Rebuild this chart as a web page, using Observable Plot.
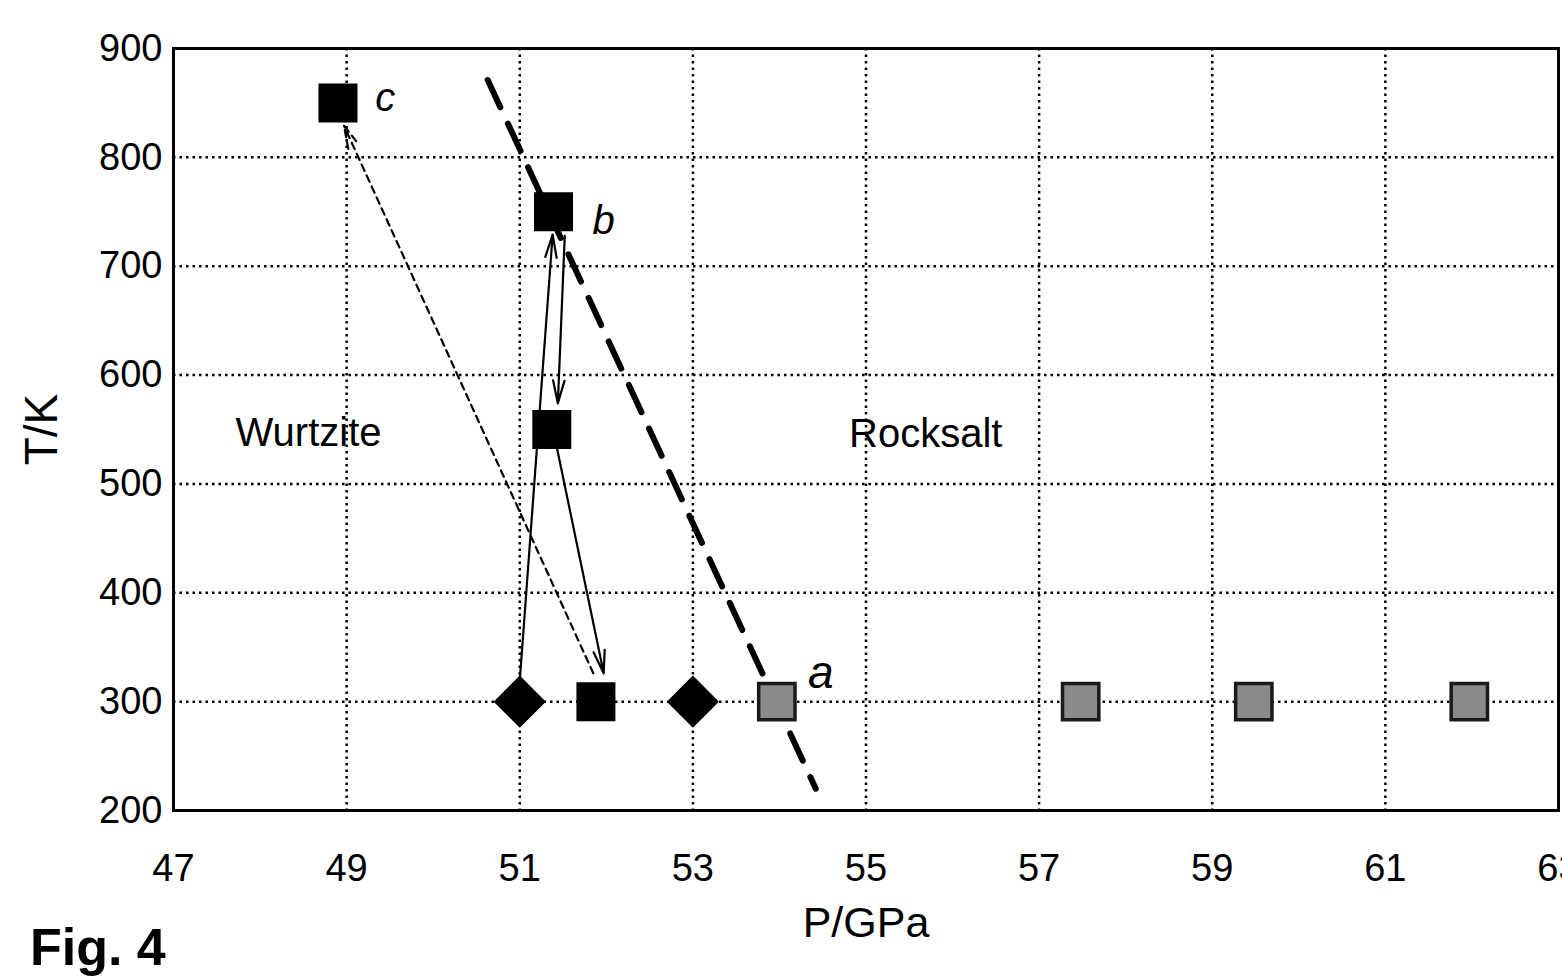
<!DOCTYPE html>
<html><head><meta charset="utf-8">
<script src="https://cdn.jsdelivr.net/npm/d3@7"></script>
<script src="https://cdn.jsdelivr.net/npm/@observablehq/plot@0.6"></script>
<style>
html,body{margin:0;padding:0;background:#fff;overflow:hidden;}
#wrap{position:relative;width:1562px;height:977px;font-family:"Liberation Sans",Arial,sans-serif;}
#fig{position:absolute;left:30px;top:917px;font-size:52px;font-weight:bold;color:#000;}
</style></head><body>
<div id="wrap"><div id="chart"></div><div id="fig">Fig. 4</div></div>
<script>
// Axis ticks
const xTicks = [47, 49, 51, 53, 55, 57, 59, 61, 63];
const yTicks = [200, 300, 400, 500, 600, 700, 800, 900];

// Black squares (computed points c, b, intermediate, end)
const squareP = [48.9, 51.39, 51.37, 51.88];
const squareT = [850, 750, 550, 300];

// Black diamonds
const diamondP = [51.0, 53.0];
const diamondT = [300, 300];

// Grey squares (experimental, "a")
const greyP = [53.97, 57.48, 59.48, 61.97];
const greyT = [300, 300, 300, 300];

// Thick dashed phase boundary
const boundaryP = [50.63, 54.42];
const boundaryT = [871, 220];

// Solid arrows: start P/T, end P/T
const arrowP1 = [51.0, 51.52, 51.43];
const arrowT1 = [319, 728, 533];
const arrowP2 = [51.38, 51.44, 51.97];
const arrowT2 = [729, 574, 326];

// Dashed arrow
const dashArrowP1 = [51.85];
const dashArrowT1 = [326];
const dashArrowP2 = [48.97];
const dashArrowT2 = [829];

// Labels
const pointLabels = ["c", "b", "a"];
const pointLabelP = [49.33, 51.84, 54.33];
const pointLabelT = [854, 741, 326];
const pointLabelSize = [40, 40, 46];
const regionLabels = ["Wurtzite", "Rocksalt"];
const regionLabelP = [48.56, 55.69];
const regionLabelT = [547, 546];

const zipPT = (P, T) => P.map((p, i) => ({P: p, T: T[i]}));
const squares = zipPT(squareP, squareT);
const diamonds = zipPT(diamondP, diamondT);
const greys = zipPT(greyP, greyT);
const boundary = zipPT(boundaryP, boundaryT);
const arrows = arrowP1.map((p, i) => ({x1: p, y1: arrowT1[i], x2: arrowP2[i], y2: arrowT2[i]}));
const dashArrows = dashArrowP1.map((p, i) => ({x1: p, y1: dashArrowT1[i], x2: dashArrowP2[i], y2: dashArrowT2[i]}));
const ptLabels = pointLabels.map((t, i) => ({t, P: pointLabelP[i], T: pointLabelT[i], s: pointLabelSize[i]}));
const rgLabels = regionLabels.map((t, i) => ({t, P: regionLabelP[i], T: regionLabelT[i]}));

const grid = {stroke: "#000", strokeOpacity: 1, strokeWidth: 2.5, strokeDasharray: "2.5,4"};

const chart = Plot.plot({
  width: 1562,
  height: 977,
  marginLeft: 173,
  marginRight: 4,
  marginTop: 48,
  marginBottom: 167,
  style: {fontFamily: "'Liberation Sans', Arial, sans-serif", color: "#000", background: "#fff"},
  x: {domain: [47, 63]},
  y: {domain: [200, 900]},
  marks: [
    Plot.gridX(xTicks, grid),
    Plot.gridY(yTicks, grid),
    Plot.axisX(xTicks, {tickSize: 0, tickPadding: 44, fontSize: 38, label: null}),
    Plot.axisX({ticks: [], label: "P/GPa", labelAnchor: "center", labelArrow: "none", labelOffset: 126, fontSize: 43}),
    Plot.axisY(yTicks, {tickSize: 0, tickPadding: 11, fontSize: 38, label: null}),
    Plot.axisY({ticks: [], label: "T/K", labelAnchor: "center", labelArrow: "none", labelOffset: 149, fontSize: 46}),
    Plot.line(boundary, {x: "P", y: "T", stroke: "#000", strokeWidth: 6, strokeDasharray: "30,18"}),
    Plot.arrow(arrows, {x1: "x1", y1: "y1", x2: "x2", y2: "y2", stroke: "#000", strokeWidth: 2.2, headLength: 16, headAngle: 28}),
    Plot.arrow(dashArrows, {x1: "x1", y1: "y1", x2: "x2", y2: "y2", stroke: "#000", strokeWidth: 2.2, strokeDasharray: "7,5", headLength: 16, headAngle: 28}),
    Plot.dot(squares, {x: "P", y: "T", symbol: "square", r: 22, fill: "#000", stroke: "none"}),
    Plot.dot(diamonds, {x: "P", y: "T", symbol: "diamond2", r: 23.5, fill: "#000", stroke: "none"}),
    Plot.dot(greys, {x: "P", y: "T", symbol: "square", r: 20.5, fill: "#8a8a8a", stroke: "#1a1a1a", strokeWidth: 3.5}),
    Plot.text(ptLabels, {x: "P", y: "T", text: "t", fontSize: "s", fontStyle: "italic", textAnchor: "start", fill: "#000"}),
    Plot.text(rgLabels, {x: "P", y: "T", text: "t", fontSize: 40, textAnchor: "middle", fill: "#000"}),
    Plot.frame({stroke: "#000", strokeWidth: 3})
  ]
});
document.getElementById("chart").appendChild(chart);
</script>
</body></html>
